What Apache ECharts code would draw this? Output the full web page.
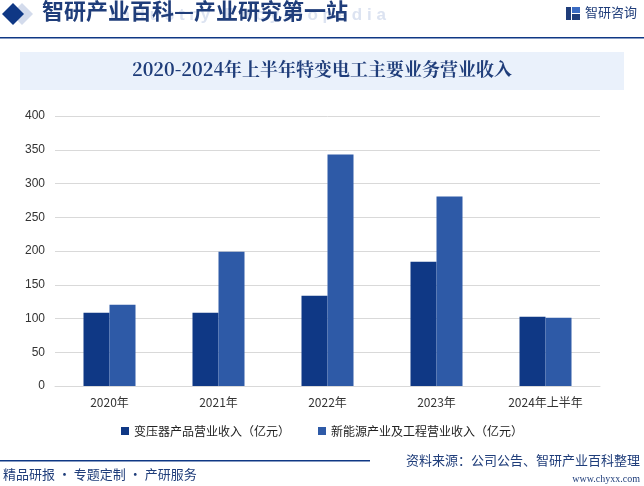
<!DOCTYPE html>
<html><head><meta charset="utf-8">
<script src="https://cdn.jsdelivr.net/npm/echarts@6/dist/echarts.min.js"></script>
<style>html,body{margin:0;padding:0;background:#fff}#c{width:644px;height:486px}</style>
</head><body><div id="c"></div>
<script>
const categories = ['2020年','2021年','2022年','2023年','2024年上半年'];
const seriesNames = ['变压器产品营业收入（亿元）','新能源产业及工程营业收入（亿元）'];
const transformerRevenue = [108.4, 108.4, 133.7, 184.2, 102.5];
const newEnergyRevenue = [120.3, 199, 343, 280.7, 101];
const yTicks = [0, 50, 100, 150, 200, 250, 300, 350, 400];

const chart = echarts.init(document.getElementById('c'), null, {renderer:'canvas'});
const cjk = '"Noto Sans CJK SC", "Noto Sans", sans-serif';
const serif = '"Noto Serif CJK SC", "Noto Sans CJK SC", serif';
chart.setOption({
  animation:false,
  backgroundColor:'#fff',
  graphic:[
    {type:'polygon', shape:{points:[[22,3],[33,14],[22,25],[11,14]]}, style:{fill:'#D3DBEC'}},
    {type:'polygon', shape:{points:[[13,3],[24,14],[13,25],[2,14]]}, style:{fill:'#0F3885'}},
    {type:'text', left:110, top:7, style:{text:'I n d u s t r y   E n c y c l o p e d i a', fill:'#DCE3F1', font:'bold 17px Arial'}},
    {type:'text', left:42, top:0, style:{text:'智研产业百科—产业研究第一站', fill:'#1F3D7A', font:'bold 22px "Noto Sans CJK SC"'}},
    {type:'rect', shape:{x:0,y:37,width:644,height:1.5}, style:{fill:'#0F3885'}},
    {type:'rect', shape:{x:566,y:7,width:5,height:13}, style:{fill:'#1F3D7A'}},
    {type:'rect', shape:{x:572,y:7,width:8,height:6}, style:{fill:'#3A6BC2'}},
    {type:'rect', shape:{x:572,y:14,width:8,height:6}, style:{fill:'#1F3D7A'}},
    {type:'text', left:585, top:6, style:{text:'智研咨询', fill:'#1F3D7A', font:'13px "Noto Sans CJK SC"'}},
    {type:'rect', shape:{x:20,y:52,width:604,height:38}, style:{fill:'#EAF1FB'}},
    {type:'text', left:'center', top:60, style:{text:'2020-2024年上半年特变电工主要业务营业收入', fill:'#1F3D7A', font:'bold 18px ' + serif}},
    {type:'rect', shape:{x:0,y:460,width:370,height:1.5}, style:{fill:'#0F3885'}},
    {type:'text', left:3, top:468, style:{text:'精品研报 · 专题定制 · 产研服务', fill:'#1F3D7A', font:'13px "Noto Sans CJK SC"'}},
    {type:'text', right:4, top:454, style:{text:'资料来源：公司公告、智研产业百科整理', fill:'#1F3D7A', font:'13px "Noto Sans CJK SC"'}},
    {type:'text', right:4, top:474, style:{text:'www.chyxx.com', fill:'#1F3D7A', font:'10px "Liberation Serif"'}}
  ],
  legend:{
    data:seriesNames, top:420, left:'center', itemWidth:8, itemHeight:8, itemGap:28, icon:'rect',
    textStyle:{color:'#222', fontSize:12, fontFamily:cjk}
  },
  grid:{left:55, right:44, top:116, bottom:100, containLabel:false},
  xAxis:{
    type:'category', data:categories,
    axisLine:{lineStyle:{color:'#D9D9D9'}}, axisTick:{show:false},
    axisLabel:{color:'#333', fontSize:12, fontFamily:cjk, margin:10}
  },
  yAxis:{
    type:'value', min:yTicks[0], max:yTicks[yTicks.length-1], interval:50,
    axisLine:{show:false}, axisTick:{show:false},
    axisLabel:{color:'#333', fontSize:12, fontFamily:'Arial, "Liberation Sans"', margin:10},
    splitLine:{lineStyle:{color:'#D9D9D9'}}
  },
  series:[
    {name:seriesNames[0], type:'bar', data:transformerRevenue, barWidth:26, barGap:'0%', itemStyle:{color:'#0F3885'}},
    {name:seriesNames[1], type:'bar', data:newEnergyRevenue, barWidth:26, barGap:'0%', itemStyle:{color:'#2E5AA7'}}
  ]
});
</script></body></html>
